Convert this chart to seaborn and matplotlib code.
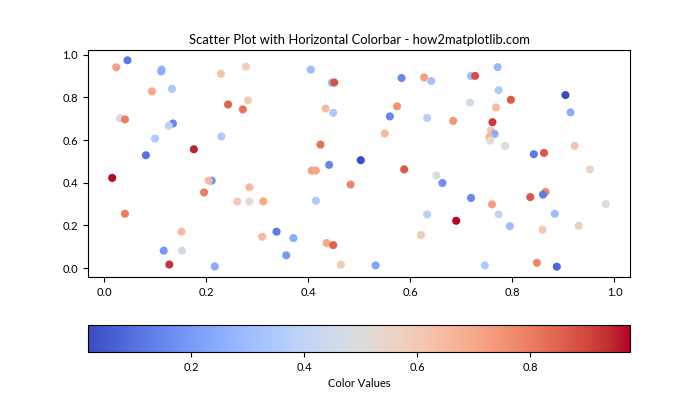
import numpy as np
import pandas as pd
import matplotlib
matplotlib.use("Agg")
import matplotlib.pyplot as plt
import seaborn as sns

x_vals = [0.046, 0.024, 0.113, 0.112, 0.229, 0.094, 0.133, 0.243, 0.031, 0.041,
          0.135, 0.127, 0.230, 0.100, 0.176, 0.082, 0.016, 0.211, 0.205, 0.196,
          0.041, 0.152, 0.117, 0.153, 0.128, 0.217,
          0.278, 0.405, 0.446, 0.451, 0.282, 0.272, 0.434, 0.449, 0.424, 0.441,
          0.503, 0.407, 0.415, 0.483, 0.285, 0.261, 0.285, 0.312, 0.415, 0.338,
          0.310, 0.371, 0.436, 0.449, 0.357, 0.464,
          0.771, 0.583, 0.627, 0.641, 0.719, 0.727, 0.773, 0.717, 0.768, 0.574,
          0.560, 0.633, 0.684, 0.761, 0.758, 0.765, 0.755, 0.757, 0.550, 0.588,
          0.651, 0.663, 0.719, 0.760, 0.773, 0.633, 0.690, 0.621, 0.532, 0.746,
          0.797, 0.904, 0.914, 0.786, 0.842, 0.862, 0.922, 0.952, 0.865, 0.860,
          0.835, 0.983, 0.883, 0.795, 0.859, 0.930, 0.848, 0.887]
y_vals = [0.974, 0.941, 0.931, 0.922, 0.911, 0.828, 0.840, 0.767, 0.703, 0.697,
          0.678, 0.667, 0.617, 0.607, 0.557, 0.529, 0.423, 0.410, 0.410, 0.355,
          0.255, 0.171, 0.082, 0.082, 0.017, 0.008,
          0.944, 0.930, 0.869, 0.870, 0.786, 0.744, 0.748, 0.728, 0.579, 0.484,
          0.506, 0.457, 0.457, 0.392, 0.379, 0.312, 0.312, 0.313, 0.316, 0.171,
          0.147, 0.141, 0.118, 0.108, 0.060, 0.016,
          0.942, 0.891, 0.894, 0.877, 0.900, 0.901, 0.834, 0.776, 0.753, 0.758,
          0.711, 0.704, 0.690, 0.684, 0.645, 0.629, 0.614, 0.598, 0.631, 0.463,
          0.434, 0.399, 0.329, 0.299, 0.252, 0.252, 0.222, 0.155, 0.013, 0.013,
          0.789, 0.811, 0.730, 0.573, 0.534, 0.540, 0.573, 0.463, 0.357, 0.345,
          0.333, 0.300, 0.255, 0.197, 0.180, 0.199, 0.025, 0.007]
c_vals = [0.12, 0.72, 0.28, 0.25, 0.62, 0.70, 0.35, 0.85, 0.48, 0.80,
          0.15, 0.40, 0.35, 0.35, 0.95, 0.10, 0.97, 0.18, 0.65, 0.80,
          0.80, 0.65, 0.20, 0.45, 0.93, 0.25,
          0.58, 0.30, 0.30, 0.88, 0.60, 0.82, 0.65, 0.35, 0.82, 0.15,
          0.02, 0.72, 0.70, 0.78, 0.65, 0.60, 0.52, 0.70, 0.35, 0.12,
          0.65, 0.25, 0.70, 0.85, 0.20, 0.60,
          0.28, 0.15, 0.72, 0.32, 0.30, 0.88, 0.35, 0.45, 0.65, 0.75,
          0.15, 0.37, 0.75, 0.92, 0.62, 0.25, 0.67, 0.50, 0.65, 0.87,
          0.50, 0.17, 0.15, 0.73, 0.42, 0.38, 0.977, 0.60, 0.22, 0.35,
          0.87, 0.017, 0.25, 0.50, 0.12, 0.87, 0.62, 0.55, 0.77, 0.12,
          0.87, 0.48, 0.30, 0.30, 0.60, 0.57, 0.78, 0.08]

plt.rcParams["font.family"] = ["Lato", "DejaVu Sans"]

df = pd.DataFrame({"x": x_vals, "y": y_vals, "c": c_vals})
vmin, vmax = min(c_vals), max(c_vals)

fig = plt.figure(figsize=(7, 4.2), dpi=100)
ax = fig.add_axes([0.125, 0.3405, 0.7757, 0.5405])
sns.scatterplot(data=df, x="x", y="y", hue="c", palette="coolwarm",
                hue_norm=(vmin, vmax), s=34, linewidth=0, legend=False, ax=ax)
ax.set_xlabel("")
ax.set_ylabel("")
ax.set_title("Scatter Plot with Horizontal Colorbar - how2matplotlib.com",
             fontsize=9.4, pad=4.5)
ax.tick_params(labelsize=8)

cax = fig.add_axes([0.1257, 0.162, 0.7743, 0.064])
sm = plt.cm.ScalarMappable(cmap="coolwarm", norm=plt.Normalize(vmin, vmax))
cb = fig.colorbar(sm, cax=cax, orientation="horizontal")
cb.set_label("Color Values", fontsize=8)
cb.ax.tick_params(labelsize=8)

fig.savefig("out.png", dpi=100)
